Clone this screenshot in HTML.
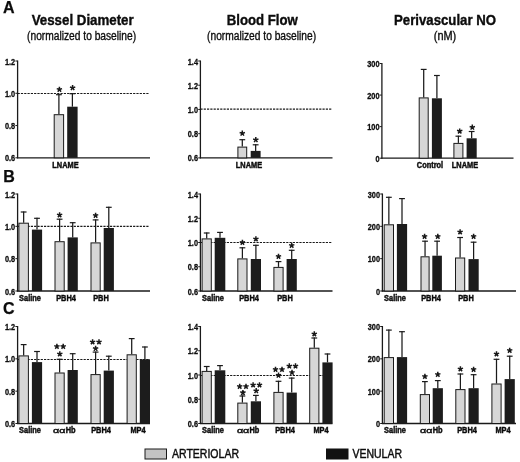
<!DOCTYPE html>
<html><head><meta charset="utf-8"><style>
html,body{margin:0;padding:0;background:#fff;}
svg{display:block;filter:grayscale(1) blur(0.35px);font-family:"Liberation Sans",sans-serif;}
</style></head><body>
<svg width="520" height="462" viewBox="0 0 520 462">
<rect width="520" height="462" fill="#fff"/>
<text x="3" y="13" font-size="16" font-weight="bold" text-anchor="start" fill="#0c0c0c" stroke="#0c0c0c" stroke-width="0.25">A</text>
<text x="3.2" y="181.5" font-size="16" font-weight="bold" text-anchor="start" fill="#0c0c0c" stroke="#0c0c0c" stroke-width="0.25">B</text>
<text x="3" y="314.2" font-size="16" font-weight="bold" text-anchor="start" fill="#0c0c0c" stroke="#0c0c0c" stroke-width="0.25">C</text>
<text x="82.7" y="25.2" font-size="15.4" font-weight="bold" text-anchor="middle" fill="#0c0c0c" stroke="#0c0c0c" stroke-width="0.4" textLength="102" lengthAdjust="spacingAndGlyphs">Vessel Diameter</text>
<text x="81.6" y="40.3" font-size="12" font-weight="normal" text-anchor="middle" fill="#0c0c0c" stroke="#0c0c0c" stroke-width="0.35" textLength="109" lengthAdjust="spacingAndGlyphs">(normalized to baseline)</text>
<text x="262.3" y="25.2" font-size="15.4" font-weight="bold" text-anchor="middle" fill="#0c0c0c" stroke="#0c0c0c" stroke-width="0.4" textLength="71" lengthAdjust="spacingAndGlyphs">Blood Flow</text>
<text x="261.6" y="40.3" font-size="12" font-weight="normal" text-anchor="middle" fill="#0c0c0c" stroke="#0c0c0c" stroke-width="0.35" textLength="109" lengthAdjust="spacingAndGlyphs">(normalized to baseline)</text>
<text x="445" y="25.2" font-size="15.4" font-weight="bold" text-anchor="middle" fill="#0c0c0c" stroke="#0c0c0c" stroke-width="0.4" textLength="102" lengthAdjust="spacingAndGlyphs">Perivascular NO</text>
<text x="445" y="40.3" font-size="12" font-weight="normal" text-anchor="middle" fill="#0c0c0c" stroke="#0c0c0c" stroke-width="0.35" textLength="22.5" lengthAdjust="spacingAndGlyphs">(nM)</text>
<line x1="17.599999999999998" y1="60.5" x2="17.599999999999998" y2="158.3" stroke="#1a1a1a" stroke-width="1.3" />
<line x1="17.099999999999998" y1="157.8" x2="150" y2="157.8" stroke="#1a1a1a" stroke-width="1.3" />
<line x1="15.399999999999999" y1="61.0" x2="17.599999999999998" y2="61.0" stroke="#1a1a1a" stroke-width="1.0" />
<text transform="translate(15.199999999999998 64.5) scale(0.8 1)" font-size="9.2" font-weight="bold" text-anchor="end" fill="#0c0c0c" stroke="#0c0c0c" stroke-width="0.3">1.2</text>
<line x1="15.399999999999999" y1="93.26666666666668" x2="17.599999999999998" y2="93.26666666666668" stroke="#1a1a1a" stroke-width="1.0" />
<text transform="translate(15.199999999999998 96.76666666666668) scale(0.8 1)" font-size="9.2" font-weight="bold" text-anchor="end" fill="#0c0c0c" stroke="#0c0c0c" stroke-width="0.3">1.0</text>
<line x1="15.399999999999999" y1="125.53333333333335" x2="17.599999999999998" y2="125.53333333333335" stroke="#1a1a1a" stroke-width="1.0" />
<text transform="translate(15.199999999999998 129.03333333333336) scale(0.8 1)" font-size="9.2" font-weight="bold" text-anchor="end" fill="#0c0c0c" stroke="#0c0c0c" stroke-width="0.3">0.8</text>
<line x1="15.399999999999999" y1="157.8" x2="17.599999999999998" y2="157.8" stroke="#1a1a1a" stroke-width="1.0" />
<text transform="translate(15.199999999999998 161.3) scale(0.8 1)" font-size="9.2" font-weight="bold" text-anchor="end" fill="#0c0c0c" stroke="#0c0c0c" stroke-width="0.3">0.6</text>
<line x1="17.599999999999998" y1="93.5" x2="149" y2="93.5" stroke="#1a1a1a" stroke-width="1.2" stroke-dasharray="2.2 1.1"/>
<line x1="58.900000000000006" y1="94.2" x2="58.900000000000006" y2="114.2" stroke="#1a1a1a" stroke-width="1.25" />
<line x1="56.00000000000001" y1="94.7" x2="61.800000000000004" y2="94.7" stroke="#1a1a1a" stroke-width="1.2" />
<rect x="54.20" y="114.70" width="9.40" height="43.10" fill="#d6d6d6" stroke="#1a1a1a" stroke-width="1"/>
<line x1="72.4" y1="93.2" x2="72.4" y2="106.7" stroke="#1a1a1a" stroke-width="1.25" />
<line x1="69.5" y1="93.7" x2="75.30000000000001" y2="93.7" stroke="#1a1a1a" stroke-width="1.2" />
<rect x="67.20" y="106.70" width="10.40" height="51.10" fill="#1c1c1c"/>
<text transform="translate(65.5 167.70000000000002) scale(0.86 1)" font-size="8.6" font-weight="bold" text-anchor="middle" fill="#0c0c0c" stroke="#0c0c0c" stroke-width="0.45">LNAME</text>
<path d="M59.40 89.50L59.40 86.70M59.40 89.50L62.06 88.63M59.40 89.50L61.05 91.77M59.40 89.50L57.75 91.77M59.40 89.50L56.74 88.63" stroke="#1a1a1a" stroke-width="1.5" stroke-linecap="butt" fill="none"/>
<circle cx="59.40" cy="89.50" r="1.1" fill="#1a1a1a"/>
<path d="M72.60 87.90L72.60 85.10M72.60 87.90L75.26 87.03M72.60 87.90L74.25 90.17M72.60 87.90L70.95 90.17M72.60 87.90L69.94 87.03" stroke="#1a1a1a" stroke-width="1.5" stroke-linecap="butt" fill="none"/>
<circle cx="72.60" cy="87.90" r="1.1" fill="#1a1a1a"/>
<line x1="200.4" y1="60.5" x2="200.4" y2="158.4" stroke="#1a1a1a" stroke-width="1.3" />
<line x1="199.9" y1="157.9" x2="332.5" y2="157.9" stroke="#1a1a1a" stroke-width="1.3" />
<line x1="198.20000000000002" y1="61.0" x2="200.4" y2="61.0" stroke="#1a1a1a" stroke-width="1.0" />
<text transform="translate(198.0 64.5) scale(0.8 1)" font-size="9.2" font-weight="bold" text-anchor="end" fill="#0c0c0c" stroke="#0c0c0c" stroke-width="0.3">1.4</text>
<line x1="198.20000000000002" y1="85.225" x2="200.4" y2="85.225" stroke="#1a1a1a" stroke-width="1.0" />
<text transform="translate(198.0 88.725) scale(0.8 1)" font-size="9.2" font-weight="bold" text-anchor="end" fill="#0c0c0c" stroke="#0c0c0c" stroke-width="0.3">1.2</text>
<line x1="198.20000000000002" y1="109.45" x2="200.4" y2="109.45" stroke="#1a1a1a" stroke-width="1.0" />
<text transform="translate(198.0 112.95) scale(0.8 1)" font-size="9.2" font-weight="bold" text-anchor="end" fill="#0c0c0c" stroke="#0c0c0c" stroke-width="0.3">1.0</text>
<line x1="198.20000000000002" y1="133.675" x2="200.4" y2="133.675" stroke="#1a1a1a" stroke-width="1.0" />
<text transform="translate(198.0 137.175) scale(0.8 1)" font-size="9.2" font-weight="bold" text-anchor="end" fill="#0c0c0c" stroke="#0c0c0c" stroke-width="0.3">0.8</text>
<line x1="198.20000000000002" y1="157.9" x2="200.4" y2="157.9" stroke="#1a1a1a" stroke-width="1.0" />
<text transform="translate(198.0 161.4) scale(0.8 1)" font-size="9.2" font-weight="bold" text-anchor="end" fill="#0c0c0c" stroke="#0c0c0c" stroke-width="0.3">0.6</text>
<line x1="200.4" y1="109.2" x2="331.5" y2="109.2" stroke="#1a1a1a" stroke-width="1.2" stroke-dasharray="2.2 1.1"/>
<line x1="242.3" y1="139.2" x2="242.3" y2="146.6" stroke="#1a1a1a" stroke-width="1.25" />
<line x1="239.4" y1="139.7" x2="245.20000000000002" y2="139.7" stroke="#1a1a1a" stroke-width="1.2" />
<rect x="237.90" y="147.10" width="8.80" height="10.80" fill="#d6d6d6" stroke="#1a1a1a" stroke-width="1"/>
<line x1="255.64999999999998" y1="144.3" x2="255.64999999999998" y2="150.9" stroke="#1a1a1a" stroke-width="1.25" />
<line x1="252.74999999999997" y1="144.8" x2="258.54999999999995" y2="144.8" stroke="#1a1a1a" stroke-width="1.2" />
<rect x="250.70" y="150.90" width="9.90" height="7.00" fill="#1c1c1c"/>
<text transform="translate(249 167.8) scale(0.86 1)" font-size="8.6" font-weight="bold" text-anchor="middle" fill="#0c0c0c" stroke="#0c0c0c" stroke-width="0.45">LNAME</text>
<path d="M242.30 133.40L242.30 130.60M242.30 133.40L244.96 132.53M242.30 133.40L243.95 135.67M242.30 133.40L240.65 135.67M242.30 133.40L239.64 132.53" stroke="#1a1a1a" stroke-width="1.5" stroke-linecap="butt" fill="none"/>
<circle cx="242.30" cy="133.40" r="1.1" fill="#1a1a1a"/>
<path d="M255.80 139.90L255.80 137.10M255.80 139.90L258.46 139.03M255.80 139.90L257.45 142.17M255.80 139.90L254.15 142.17M255.80 139.90L253.14 139.03" stroke="#1a1a1a" stroke-width="1.5" stroke-linecap="butt" fill="none"/>
<circle cx="255.80" cy="139.90" r="1.1" fill="#1a1a1a"/>
<line x1="381.9" y1="63.0" x2="381.9" y2="158.7" stroke="#1a1a1a" stroke-width="1.3" />
<line x1="381.4" y1="158.2" x2="513.5" y2="158.2" stroke="#1a1a1a" stroke-width="1.3" />
<line x1="379.7" y1="63.5" x2="381.9" y2="63.5" stroke="#1a1a1a" stroke-width="1.0" />
<text transform="translate(379.5 67.0) scale(0.8 1)" font-size="9.2" font-weight="bold" text-anchor="end" fill="#0c0c0c" stroke="#0c0c0c" stroke-width="0.3">300</text>
<line x1="379.7" y1="95.06666666666666" x2="381.9" y2="95.06666666666666" stroke="#1a1a1a" stroke-width="1.0" />
<text transform="translate(379.5 98.56666666666666) scale(0.8 1)" font-size="9.2" font-weight="bold" text-anchor="end" fill="#0c0c0c" stroke="#0c0c0c" stroke-width="0.3">200</text>
<line x1="379.7" y1="126.63333333333333" x2="381.9" y2="126.63333333333333" stroke="#1a1a1a" stroke-width="1.0" />
<text transform="translate(379.5 130.13333333333333) scale(0.8 1)" font-size="9.2" font-weight="bold" text-anchor="end" fill="#0c0c0c" stroke="#0c0c0c" stroke-width="0.3">100</text>
<line x1="379.7" y1="158.2" x2="381.9" y2="158.2" stroke="#1a1a1a" stroke-width="1.0" />
<text transform="translate(379.5 161.7) scale(0.8 1)" font-size="9.2" font-weight="bold" text-anchor="end" fill="#0c0c0c" stroke="#0c0c0c" stroke-width="0.3">0</text>
<line x1="423.70000000000005" y1="68.9" x2="423.70000000000005" y2="97.4" stroke="#1a1a1a" stroke-width="1.25" />
<line x1="420.80000000000007" y1="69.4" x2="426.6" y2="69.4" stroke="#1a1a1a" stroke-width="1.2" />
<rect x="419.20" y="97.90" width="9.00" height="60.30" fill="#d6d6d6" stroke="#1a1a1a" stroke-width="1"/>
<line x1="436.9" y1="75.0" x2="436.9" y2="98.3" stroke="#1a1a1a" stroke-width="1.25" />
<line x1="434.0" y1="75.5" x2="439.79999999999995" y2="75.5" stroke="#1a1a1a" stroke-width="1.2" />
<rect x="431.90" y="98.30" width="10.00" height="59.90" fill="#1c1c1c"/>
<line x1="458.4" y1="135.7" x2="458.4" y2="142.9" stroke="#1a1a1a" stroke-width="1.25" />
<line x1="455.5" y1="136.2" x2="461.29999999999995" y2="136.2" stroke="#1a1a1a" stroke-width="1.2" />
<rect x="453.90" y="143.40" width="9.00" height="14.80" fill="#d6d6d6" stroke="#1a1a1a" stroke-width="1"/>
<line x1="471.65" y1="131.0" x2="471.65" y2="138.3" stroke="#1a1a1a" stroke-width="1.25" />
<line x1="468.75" y1="131.5" x2="474.54999999999995" y2="131.5" stroke="#1a1a1a" stroke-width="1.2" />
<rect x="466.60" y="138.30" width="10.10" height="19.90" fill="#1c1c1c"/>
<text transform="translate(430 168.1) scale(0.86 1)" font-size="8.6" font-weight="bold" text-anchor="middle" fill="#0c0c0c" stroke="#0c0c0c" stroke-width="0.45">Control</text>
<text transform="translate(465 168.1) scale(0.86 1)" font-size="8.6" font-weight="bold" text-anchor="middle" fill="#0c0c0c" stroke="#0c0c0c" stroke-width="0.45">LNAME</text>
<path d="M459.70 131.20L459.70 128.40M459.70 131.20L462.36 130.33M459.70 131.20L461.35 133.47M459.70 131.20L458.05 133.47M459.70 131.20L457.04 130.33" stroke="#1a1a1a" stroke-width="1.5" stroke-linecap="butt" fill="none"/>
<circle cx="459.70" cy="131.20" r="1.1" fill="#1a1a1a"/>
<path d="M472.30 127.40L472.30 124.60M472.30 127.40L474.96 126.53M472.30 127.40L473.95 129.67M472.30 127.40L470.65 129.67M472.30 127.40L469.64 126.53" stroke="#1a1a1a" stroke-width="1.5" stroke-linecap="butt" fill="none"/>
<circle cx="472.30" cy="127.40" r="1.1" fill="#1a1a1a"/>
<line x1="17.599999999999998" y1="193.5" x2="17.599999999999998" y2="291.5" stroke="#1a1a1a" stroke-width="1.3" />
<line x1="17.099999999999998" y1="291" x2="150" y2="291" stroke="#1a1a1a" stroke-width="1.3" />
<line x1="15.399999999999999" y1="194.0" x2="17.599999999999998" y2="194.0" stroke="#1a1a1a" stroke-width="1.0" />
<text transform="translate(15.199999999999998 197.5) scale(0.8 1)" font-size="9.2" font-weight="bold" text-anchor="end" fill="#0c0c0c" stroke="#0c0c0c" stroke-width="0.3">1.2</text>
<line x1="15.399999999999999" y1="226.33333333333334" x2="17.599999999999998" y2="226.33333333333334" stroke="#1a1a1a" stroke-width="1.0" />
<text transform="translate(15.199999999999998 229.83333333333334) scale(0.8 1)" font-size="9.2" font-weight="bold" text-anchor="end" fill="#0c0c0c" stroke="#0c0c0c" stroke-width="0.3">1.0</text>
<line x1="15.399999999999999" y1="258.6666666666667" x2="17.599999999999998" y2="258.6666666666667" stroke="#1a1a1a" stroke-width="1.0" />
<text transform="translate(15.199999999999998 262.1666666666667) scale(0.8 1)" font-size="9.2" font-weight="bold" text-anchor="end" fill="#0c0c0c" stroke="#0c0c0c" stroke-width="0.3">0.8</text>
<line x1="15.399999999999999" y1="291.0" x2="17.599999999999998" y2="291.0" stroke="#1a1a1a" stroke-width="1.0" />
<text transform="translate(15.199999999999998 294.5) scale(0.8 1)" font-size="9.2" font-weight="bold" text-anchor="end" fill="#0c0c0c" stroke="#0c0c0c" stroke-width="0.3">0.6</text>
<line x1="17.599999999999998" y1="226.3" x2="149" y2="226.3" stroke="#1a1a1a" stroke-width="1.2" stroke-dasharray="2.2 1.1"/>
<line x1="23.65" y1="211.5" x2="23.65" y2="222.7" stroke="#1a1a1a" stroke-width="1.25" />
<line x1="20.75" y1="212" x2="26.549999999999997" y2="212" stroke="#1a1a1a" stroke-width="1.2" />
<rect x="18.90" y="223.20" width="9.50" height="67.80" fill="#d6d6d6" stroke="#1a1a1a" stroke-width="1"/>
<line x1="37.0" y1="217.8" x2="37.0" y2="229.6" stroke="#1a1a1a" stroke-width="1.25" />
<line x1="34.1" y1="218.3" x2="39.9" y2="218.3" stroke="#1a1a1a" stroke-width="1.2" />
<rect x="31.90" y="229.60" width="10.20" height="61.40" fill="#1c1c1c"/>
<line x1="59.6" y1="218.7" x2="59.6" y2="241.2" stroke="#1a1a1a" stroke-width="1.25" />
<line x1="56.7" y1="219.2" x2="62.5" y2="219.2" stroke="#1a1a1a" stroke-width="1.2" />
<rect x="55.00" y="241.70" width="9.20" height="49.30" fill="#d6d6d6" stroke="#1a1a1a" stroke-width="1"/>
<line x1="72.7" y1="222.2" x2="72.7" y2="237.4" stroke="#1a1a1a" stroke-width="1.25" />
<line x1="69.8" y1="222.7" x2="75.60000000000001" y2="222.7" stroke="#1a1a1a" stroke-width="1.2" />
<rect x="67.60" y="237.40" width="10.20" height="53.60" fill="#1c1c1c"/>
<line x1="95.6" y1="219.4" x2="95.6" y2="242.4" stroke="#1a1a1a" stroke-width="1.25" />
<line x1="92.69999999999999" y1="219.9" x2="98.5" y2="219.9" stroke="#1a1a1a" stroke-width="1.2" />
<rect x="91.00" y="242.90" width="9.20" height="48.10" fill="#d6d6d6" stroke="#1a1a1a" stroke-width="1"/>
<line x1="108.8" y1="206.8" x2="108.8" y2="228" stroke="#1a1a1a" stroke-width="1.25" />
<line x1="105.89999999999999" y1="207.3" x2="111.7" y2="207.3" stroke="#1a1a1a" stroke-width="1.2" />
<rect x="103.70" y="228.00" width="10.20" height="63.00" fill="#1c1c1c"/>
<text transform="translate(30 300.9) scale(0.86 1)" font-size="8.6" font-weight="bold" text-anchor="middle" fill="#0c0c0c" stroke="#0c0c0c" stroke-width="0.45">Saline</text>
<text transform="translate(66 300.9) scale(0.86 1)" font-size="8.6" font-weight="bold" text-anchor="middle" fill="#0c0c0c" stroke="#0c0c0c" stroke-width="0.45">PBH4</text>
<text transform="translate(101 300.9) scale(0.86 1)" font-size="8.6" font-weight="bold" text-anchor="middle" fill="#0c0c0c" stroke="#0c0c0c" stroke-width="0.45">PBH</text>
<path d="M59.60 215.00L59.60 212.20M59.60 215.00L62.26 214.13M59.60 215.00L61.25 217.27M59.60 215.00L57.95 217.27M59.60 215.00L56.94 214.13" stroke="#1a1a1a" stroke-width="1.5" stroke-linecap="butt" fill="none"/>
<circle cx="59.60" cy="215.00" r="1.1" fill="#1a1a1a"/>
<path d="M95.60 215.50L95.60 212.70M95.60 215.50L98.26 214.63M95.60 215.50L97.25 217.77M95.60 215.50L93.95 217.77M95.60 215.50L92.94 214.63" stroke="#1a1a1a" stroke-width="1.5" stroke-linecap="butt" fill="none"/>
<circle cx="95.60" cy="215.50" r="1.1" fill="#1a1a1a"/>
<line x1="200.4" y1="193.5" x2="200.4" y2="291.5" stroke="#1a1a1a" stroke-width="1.3" />
<line x1="199.9" y1="291" x2="332.5" y2="291" stroke="#1a1a1a" stroke-width="1.3" />
<line x1="198.20000000000002" y1="194.0" x2="200.4" y2="194.0" stroke="#1a1a1a" stroke-width="1.0" />
<text transform="translate(198.0 197.5) scale(0.8 1)" font-size="9.2" font-weight="bold" text-anchor="end" fill="#0c0c0c" stroke="#0c0c0c" stroke-width="0.3">1.4</text>
<line x1="198.20000000000002" y1="218.25" x2="200.4" y2="218.25" stroke="#1a1a1a" stroke-width="1.0" />
<text transform="translate(198.0 221.75) scale(0.8 1)" font-size="9.2" font-weight="bold" text-anchor="end" fill="#0c0c0c" stroke="#0c0c0c" stroke-width="0.3">1.2</text>
<line x1="198.20000000000002" y1="242.5" x2="200.4" y2="242.5" stroke="#1a1a1a" stroke-width="1.0" />
<text transform="translate(198.0 246.0) scale(0.8 1)" font-size="9.2" font-weight="bold" text-anchor="end" fill="#0c0c0c" stroke="#0c0c0c" stroke-width="0.3">1.0</text>
<line x1="198.20000000000002" y1="266.75" x2="200.4" y2="266.75" stroke="#1a1a1a" stroke-width="1.0" />
<text transform="translate(198.0 270.25) scale(0.8 1)" font-size="9.2" font-weight="bold" text-anchor="end" fill="#0c0c0c" stroke="#0c0c0c" stroke-width="0.3">0.8</text>
<line x1="198.20000000000002" y1="291.0" x2="200.4" y2="291.0" stroke="#1a1a1a" stroke-width="1.0" />
<text transform="translate(198.0 294.5) scale(0.8 1)" font-size="9.2" font-weight="bold" text-anchor="end" fill="#0c0c0c" stroke="#0c0c0c" stroke-width="0.3">0.6</text>
<line x1="200.4" y1="242.5" x2="331.5" y2="242.5" stroke="#1a1a1a" stroke-width="1.2" stroke-dasharray="2.2 1.1"/>
<line x1="206.7" y1="232.5" x2="206.7" y2="238.4" stroke="#1a1a1a" stroke-width="1.25" />
<line x1="203.79999999999998" y1="233" x2="209.6" y2="233" stroke="#1a1a1a" stroke-width="1.2" />
<rect x="202.10" y="238.90" width="9.20" height="52.10" fill="#d6d6d6" stroke="#1a1a1a" stroke-width="1"/>
<line x1="220.0" y1="231.9" x2="220.0" y2="237.8" stroke="#1a1a1a" stroke-width="1.25" />
<line x1="217.1" y1="232.4" x2="222.9" y2="232.4" stroke="#1a1a1a" stroke-width="1.2" />
<rect x="214.70" y="237.80" width="10.60" height="53.20" fill="#1c1c1c"/>
<line x1="242.39999999999998" y1="247.3" x2="242.39999999999998" y2="258.4" stroke="#1a1a1a" stroke-width="1.25" />
<line x1="239.49999999999997" y1="247.8" x2="245.29999999999998" y2="247.8" stroke="#1a1a1a" stroke-width="1.2" />
<rect x="237.80" y="258.90" width="9.20" height="32.10" fill="#d6d6d6" stroke="#1a1a1a" stroke-width="1"/>
<line x1="255.89999999999998" y1="244.8" x2="255.89999999999998" y2="259" stroke="#1a1a1a" stroke-width="1.25" />
<line x1="252.99999999999997" y1="245.3" x2="258.79999999999995" y2="245.3" stroke="#1a1a1a" stroke-width="1.2" />
<rect x="250.80" y="259.00" width="10.20" height="32.00" fill="#1c1c1c"/>
<line x1="278.5" y1="261.1" x2="278.5" y2="266.9" stroke="#1a1a1a" stroke-width="1.25" />
<line x1="275.6" y1="261.6" x2="281.4" y2="261.6" stroke="#1a1a1a" stroke-width="1.2" />
<rect x="273.90" y="267.40" width="9.20" height="23.60" fill="#d6d6d6" stroke="#1a1a1a" stroke-width="1"/>
<line x1="291.7" y1="249.8" x2="291.7" y2="259" stroke="#1a1a1a" stroke-width="1.25" />
<line x1="288.8" y1="250.3" x2="294.59999999999997" y2="250.3" stroke="#1a1a1a" stroke-width="1.2" />
<rect x="286.60" y="259.00" width="10.20" height="32.00" fill="#1c1c1c"/>
<text transform="translate(213 300.9) scale(0.86 1)" font-size="8.6" font-weight="bold" text-anchor="middle" fill="#0c0c0c" stroke="#0c0c0c" stroke-width="0.45">Saline</text>
<text transform="translate(249 300.9) scale(0.86 1)" font-size="8.6" font-weight="bold" text-anchor="middle" fill="#0c0c0c" stroke="#0c0c0c" stroke-width="0.45">PBH4</text>
<text transform="translate(285 300.9) scale(0.86 1)" font-size="8.6" font-weight="bold" text-anchor="middle" fill="#0c0c0c" stroke="#0c0c0c" stroke-width="0.45">PBH</text>
<path d="M242.40 242.50L242.40 239.70M242.40 242.50L245.06 241.63M242.40 242.50L244.05 244.77M242.40 242.50L240.75 244.77M242.40 242.50L239.74 241.63" stroke="#1a1a1a" stroke-width="1.5" stroke-linecap="butt" fill="none"/>
<circle cx="242.40" cy="242.50" r="1.1" fill="#1a1a1a"/>
<path d="M255.90 239.00L255.90 236.20M255.90 239.00L258.56 238.13M255.90 239.00L257.55 241.27M255.90 239.00L254.25 241.27M255.90 239.00L253.24 238.13" stroke="#1a1a1a" stroke-width="1.5" stroke-linecap="butt" fill="none"/>
<circle cx="255.90" cy="239.00" r="1.1" fill="#1a1a1a"/>
<path d="M278.50 256.50L278.50 253.70M278.50 256.50L281.16 255.63M278.50 256.50L280.15 258.77M278.50 256.50L276.85 258.77M278.50 256.50L275.84 255.63" stroke="#1a1a1a" stroke-width="1.5" stroke-linecap="butt" fill="none"/>
<circle cx="278.50" cy="256.50" r="1.1" fill="#1a1a1a"/>
<path d="M291.70 245.50L291.70 242.70M291.70 245.50L294.36 244.63M291.70 245.50L293.35 247.77M291.70 245.50L290.05 247.77M291.70 245.50L289.04 244.63" stroke="#1a1a1a" stroke-width="1.5" stroke-linecap="butt" fill="none"/>
<circle cx="291.70" cy="245.50" r="1.1" fill="#1a1a1a"/>
<line x1="382.4" y1="193.5" x2="382.4" y2="291.5" stroke="#1a1a1a" stroke-width="1.3" />
<line x1="381.9" y1="291" x2="516" y2="291" stroke="#1a1a1a" stroke-width="1.3" />
<line x1="380.2" y1="194.0" x2="382.4" y2="194.0" stroke="#1a1a1a" stroke-width="1.0" />
<text transform="translate(380.0 197.5) scale(0.8 1)" font-size="9.2" font-weight="bold" text-anchor="end" fill="#0c0c0c" stroke="#0c0c0c" stroke-width="0.3">300</text>
<line x1="380.2" y1="226.33333333333334" x2="382.4" y2="226.33333333333334" stroke="#1a1a1a" stroke-width="1.0" />
<text transform="translate(380.0 229.83333333333334) scale(0.8 1)" font-size="9.2" font-weight="bold" text-anchor="end" fill="#0c0c0c" stroke="#0c0c0c" stroke-width="0.3">200</text>
<line x1="380.2" y1="258.6666666666667" x2="382.4" y2="258.6666666666667" stroke="#1a1a1a" stroke-width="1.0" />
<text transform="translate(380.0 262.1666666666667) scale(0.8 1)" font-size="9.2" font-weight="bold" text-anchor="end" fill="#0c0c0c" stroke="#0c0c0c" stroke-width="0.3">100</text>
<line x1="380.2" y1="291.0" x2="382.4" y2="291.0" stroke="#1a1a1a" stroke-width="1.0" />
<text transform="translate(380.0 294.5) scale(0.8 1)" font-size="9.2" font-weight="bold" text-anchor="end" fill="#0c0c0c" stroke="#0c0c0c" stroke-width="0.3">0</text>
<line x1="388.85" y1="196.8" x2="388.85" y2="224.3" stroke="#1a1a1a" stroke-width="1.25" />
<line x1="385.95000000000005" y1="197.3" x2="391.75" y2="197.3" stroke="#1a1a1a" stroke-width="1.2" />
<rect x="384.20" y="224.80" width="9.30" height="66.20" fill="#d6d6d6" stroke="#1a1a1a" stroke-width="1"/>
<line x1="402.0" y1="198.1" x2="402.0" y2="224" stroke="#1a1a1a" stroke-width="1.25" />
<line x1="399.1" y1="198.6" x2="404.9" y2="198.6" stroke="#1a1a1a" stroke-width="1.2" />
<rect x="396.90" y="224.00" width="10.20" height="67.00" fill="#1c1c1c"/>
<line x1="425.04999999999995" y1="240.7" x2="425.04999999999995" y2="256.3" stroke="#1a1a1a" stroke-width="1.25" />
<line x1="422.15" y1="241.2" x2="427.94999999999993" y2="241.2" stroke="#1a1a1a" stroke-width="1.2" />
<rect x="421.00" y="256.80" width="8.10" height="34.20" fill="#d6d6d6" stroke="#1a1a1a" stroke-width="1"/>
<line x1="437.1" y1="240.7" x2="437.1" y2="255.7" stroke="#1a1a1a" stroke-width="1.25" />
<line x1="434.20000000000005" y1="241.2" x2="440.0" y2="241.2" stroke="#1a1a1a" stroke-width="1.2" />
<rect x="432.30" y="255.70" width="9.60" height="35.30" fill="#1c1c1c"/>
<line x1="460.1" y1="237.0" x2="460.1" y2="257.5" stroke="#1a1a1a" stroke-width="1.25" />
<line x1="457.20000000000005" y1="237.5" x2="463.0" y2="237.5" stroke="#1a1a1a" stroke-width="1.2" />
<rect x="455.50" y="258.00" width="9.20" height="33.00" fill="#d6d6d6" stroke="#1a1a1a" stroke-width="1"/>
<line x1="473.6" y1="241.7" x2="473.6" y2="259.1" stroke="#1a1a1a" stroke-width="1.25" />
<line x1="470.70000000000005" y1="242.2" x2="476.5" y2="242.2" stroke="#1a1a1a" stroke-width="1.2" />
<rect x="468.50" y="259.10" width="10.20" height="31.90" fill="#1c1c1c"/>
<text transform="translate(395 300.9) scale(0.86 1)" font-size="8.6" font-weight="bold" text-anchor="middle" fill="#0c0c0c" stroke="#0c0c0c" stroke-width="0.45">Saline</text>
<text transform="translate(431 300.9) scale(0.86 1)" font-size="8.6" font-weight="bold" text-anchor="middle" fill="#0c0c0c" stroke="#0c0c0c" stroke-width="0.45">PBH4</text>
<text transform="translate(466 300.9) scale(0.86 1)" font-size="8.6" font-weight="bold" text-anchor="middle" fill="#0c0c0c" stroke="#0c0c0c" stroke-width="0.45">PBH</text>
<path d="M424.60 236.50L424.60 233.70M424.60 236.50L427.26 235.63M424.60 236.50L426.25 238.77M424.60 236.50L422.95 238.77M424.60 236.50L421.94 235.63" stroke="#1a1a1a" stroke-width="1.5" stroke-linecap="butt" fill="none"/>
<circle cx="424.60" cy="236.50" r="1.1" fill="#1a1a1a"/>
<path d="M437.80 236.50L437.80 233.70M437.80 236.50L440.46 235.63M437.80 236.50L439.45 238.77M437.80 236.50L436.15 238.77M437.80 236.50L435.14 235.63" stroke="#1a1a1a" stroke-width="1.5" stroke-linecap="butt" fill="none"/>
<circle cx="437.80" cy="236.50" r="1.1" fill="#1a1a1a"/>
<path d="M460.10 232.00L460.10 229.20M460.10 232.00L462.76 231.13M460.10 232.00L461.75 234.27M460.10 232.00L458.45 234.27M460.10 232.00L457.44 231.13" stroke="#1a1a1a" stroke-width="1.5" stroke-linecap="butt" fill="none"/>
<circle cx="460.10" cy="232.00" r="1.1" fill="#1a1a1a"/>
<path d="M473.60 236.50L473.60 233.70M473.60 236.50L476.26 235.63M473.60 236.50L475.25 238.77M473.60 236.50L471.95 238.77M473.60 236.50L470.94 235.63" stroke="#1a1a1a" stroke-width="1.5" stroke-linecap="butt" fill="none"/>
<circle cx="473.60" cy="236.50" r="1.1" fill="#1a1a1a"/>
<line x1="17.599999999999998" y1="326.0" x2="17.599999999999998" y2="424.0" stroke="#1a1a1a" stroke-width="1.3" />
<line x1="17.099999999999998" y1="423.5" x2="150" y2="423.5" stroke="#1a1a1a" stroke-width="1.3" />
<line x1="15.399999999999999" y1="326.5" x2="17.599999999999998" y2="326.5" stroke="#1a1a1a" stroke-width="1.0" />
<text transform="translate(15.199999999999998 330.0) scale(0.8 1)" font-size="9.2" font-weight="bold" text-anchor="end" fill="#0c0c0c" stroke="#0c0c0c" stroke-width="0.3">1.2</text>
<line x1="15.399999999999999" y1="358.8333333333333" x2="17.599999999999998" y2="358.8333333333333" stroke="#1a1a1a" stroke-width="1.0" />
<text transform="translate(15.199999999999998 362.3333333333333) scale(0.8 1)" font-size="9.2" font-weight="bold" text-anchor="end" fill="#0c0c0c" stroke="#0c0c0c" stroke-width="0.3">1.0</text>
<line x1="15.399999999999999" y1="391.1666666666667" x2="17.599999999999998" y2="391.1666666666667" stroke="#1a1a1a" stroke-width="1.0" />
<text transform="translate(15.199999999999998 394.6666666666667) scale(0.8 1)" font-size="9.2" font-weight="bold" text-anchor="end" fill="#0c0c0c" stroke="#0c0c0c" stroke-width="0.3">0.8</text>
<line x1="15.399999999999999" y1="423.5" x2="17.599999999999998" y2="423.5" stroke="#1a1a1a" stroke-width="1.0" />
<text transform="translate(15.199999999999998 427.0) scale(0.8 1)" font-size="9.2" font-weight="bold" text-anchor="end" fill="#0c0c0c" stroke="#0c0c0c" stroke-width="0.3">0.6</text>
<line x1="17.599999999999998" y1="359.5" x2="149" y2="359.5" stroke="#1a1a1a" stroke-width="1.2" stroke-dasharray="2.2 1.1"/>
<line x1="23.65" y1="344.1" x2="23.65" y2="355.4" stroke="#1a1a1a" stroke-width="1.25" />
<line x1="20.75" y1="344.6" x2="26.549999999999997" y2="344.6" stroke="#1a1a1a" stroke-width="1.2" />
<rect x="18.90" y="355.90" width="9.50" height="67.60" fill="#d6d6d6" stroke="#1a1a1a" stroke-width="1"/>
<line x1="37.0" y1="351.0" x2="37.0" y2="362.1" stroke="#1a1a1a" stroke-width="1.25" />
<line x1="34.1" y1="351.5" x2="39.9" y2="351.5" stroke="#1a1a1a" stroke-width="1.2" />
<rect x="31.90" y="362.10" width="10.20" height="61.40" fill="#1c1c1c"/>
<line x1="59.6" y1="358.8" x2="59.6" y2="372.5" stroke="#1a1a1a" stroke-width="1.25" />
<line x1="56.7" y1="359.3" x2="62.5" y2="359.3" stroke="#1a1a1a" stroke-width="1.2" />
<rect x="55.00" y="373.00" width="9.20" height="50.50" fill="#d6d6d6" stroke="#1a1a1a" stroke-width="1"/>
<line x1="72.7" y1="353.2" x2="72.7" y2="370" stroke="#1a1a1a" stroke-width="1.25" />
<line x1="69.8" y1="353.7" x2="75.60000000000001" y2="353.7" stroke="#1a1a1a" stroke-width="1.2" />
<rect x="67.60" y="370.00" width="10.20" height="53.50" fill="#1c1c1c"/>
<line x1="95.6" y1="351.6" x2="95.6" y2="374.1" stroke="#1a1a1a" stroke-width="1.25" />
<line x1="92.69999999999999" y1="352.1" x2="98.5" y2="352.1" stroke="#1a1a1a" stroke-width="1.2" />
<rect x="91.00" y="374.60" width="9.20" height="48.90" fill="#d6d6d6" stroke="#1a1a1a" stroke-width="1"/>
<line x1="108.8" y1="355.7" x2="108.8" y2="370.6" stroke="#1a1a1a" stroke-width="1.25" />
<line x1="105.89999999999999" y1="356.2" x2="111.7" y2="356.2" stroke="#1a1a1a" stroke-width="1.2" />
<rect x="103.70" y="370.60" width="10.20" height="52.90" fill="#1c1c1c"/>
<line x1="131.7" y1="338.1" x2="131.7" y2="354.3" stroke="#1a1a1a" stroke-width="1.25" />
<line x1="128.79999999999998" y1="338.6" x2="134.6" y2="338.6" stroke="#1a1a1a" stroke-width="1.2" />
<rect x="127.10" y="354.80" width="9.20" height="68.70" fill="#d6d6d6" stroke="#1a1a1a" stroke-width="1"/>
<line x1="144.89999999999998" y1="346.5" x2="144.89999999999998" y2="359.3" stroke="#1a1a1a" stroke-width="1.25" />
<line x1="141.99999999999997" y1="347" x2="147.79999999999998" y2="347" stroke="#1a1a1a" stroke-width="1.2" />
<rect x="139.80" y="359.30" width="10.20" height="64.20" fill="#1c1c1c"/>
<text transform="translate(30 433.4) scale(0.86 1)" font-size="8.6" font-weight="bold" text-anchor="middle" fill="#0c0c0c" stroke="#0c0c0c" stroke-width="0.45">Saline</text>
<text transform="translate(65.5 433.4) scale(1.38 1)" font-size="7.8" font-weight="normal" text-anchor="end" fill="#0c0c0c" stroke="#0c0c0c" stroke-width="0.4">αα</text>
<text transform="translate(65.7 433.4) scale(0.86 1)" font-size="8.6" font-weight="bold" text-anchor="start" fill="#0c0c0c" stroke="#0c0c0c" stroke-width="0.45">Hb</text>
<text transform="translate(101 433.4) scale(0.86 1)" font-size="8.6" font-weight="bold" text-anchor="middle" fill="#0c0c0c" stroke="#0c0c0c" stroke-width="0.45">PBH4</text>
<text transform="translate(138 433.4) scale(0.86 1)" font-size="8.6" font-weight="bold" text-anchor="middle" fill="#0c0c0c" stroke="#0c0c0c" stroke-width="0.45">MP4</text>
<path d="M56.90 346.50L56.90 343.70M56.90 346.50L59.56 345.63M56.90 346.50L58.55 348.77M56.90 346.50L55.25 348.77M56.90 346.50L54.24 345.63" stroke="#1a1a1a" stroke-width="1.5" stroke-linecap="butt" fill="none"/>
<circle cx="56.90" cy="346.50" r="1.1" fill="#1a1a1a"/>
<path d="M63.20 346.50L63.20 343.70M63.20 346.50L65.86 345.63M63.20 346.50L64.85 348.77M63.20 346.50L61.55 348.77M63.20 346.50L60.54 345.63" stroke="#1a1a1a" stroke-width="1.5" stroke-linecap="butt" fill="none"/>
<circle cx="63.20" cy="346.50" r="1.1" fill="#1a1a1a"/>
<path d="M59.80 354.00L59.80 351.20M59.80 354.00L62.46 353.13M59.80 354.00L61.45 356.27M59.80 354.00L58.15 356.27M59.80 354.00L57.14 353.13" stroke="#1a1a1a" stroke-width="1.5" stroke-linecap="butt" fill="none"/>
<circle cx="59.80" cy="354.00" r="1.1" fill="#1a1a1a"/>
<path d="M92.60 342.00L92.60 339.20M92.60 342.00L95.26 341.13M92.60 342.00L94.25 344.27M92.60 342.00L90.95 344.27M92.60 342.00L89.94 341.13" stroke="#1a1a1a" stroke-width="1.5" stroke-linecap="butt" fill="none"/>
<circle cx="92.60" cy="342.00" r="1.1" fill="#1a1a1a"/>
<path d="M99.00 342.00L99.00 339.20M99.00 342.00L101.66 341.13M99.00 342.00L100.65 344.27M99.00 342.00L97.35 344.27M99.00 342.00L96.34 341.13" stroke="#1a1a1a" stroke-width="1.5" stroke-linecap="butt" fill="none"/>
<circle cx="99.00" cy="342.00" r="1.1" fill="#1a1a1a"/>
<path d="M95.60 348.60L95.60 345.80M95.60 348.60L98.26 347.73M95.60 348.60L97.25 350.87M95.60 348.60L93.95 350.87M95.60 348.60L92.94 347.73" stroke="#1a1a1a" stroke-width="1.5" stroke-linecap="butt" fill="none"/>
<circle cx="95.60" cy="348.60" r="1.1" fill="#1a1a1a"/>
<line x1="200.4" y1="326.0" x2="200.4" y2="424.0" stroke="#1a1a1a" stroke-width="1.3" />
<line x1="199.9" y1="423.5" x2="332.5" y2="423.5" stroke="#1a1a1a" stroke-width="1.3" />
<line x1="198.20000000000002" y1="326.5" x2="200.4" y2="326.5" stroke="#1a1a1a" stroke-width="1.0" />
<text transform="translate(198.0 330.0) scale(0.8 1)" font-size="9.2" font-weight="bold" text-anchor="end" fill="#0c0c0c" stroke="#0c0c0c" stroke-width="0.3">1.4</text>
<line x1="198.20000000000002" y1="350.75" x2="200.4" y2="350.75" stroke="#1a1a1a" stroke-width="1.0" />
<text transform="translate(198.0 354.25) scale(0.8 1)" font-size="9.2" font-weight="bold" text-anchor="end" fill="#0c0c0c" stroke="#0c0c0c" stroke-width="0.3">1.2</text>
<line x1="198.20000000000002" y1="375.0" x2="200.4" y2="375.0" stroke="#1a1a1a" stroke-width="1.0" />
<text transform="translate(198.0 378.5) scale(0.8 1)" font-size="9.2" font-weight="bold" text-anchor="end" fill="#0c0c0c" stroke="#0c0c0c" stroke-width="0.3">1.0</text>
<line x1="198.20000000000002" y1="399.25" x2="200.4" y2="399.25" stroke="#1a1a1a" stroke-width="1.0" />
<text transform="translate(198.0 402.75) scale(0.8 1)" font-size="9.2" font-weight="bold" text-anchor="end" fill="#0c0c0c" stroke="#0c0c0c" stroke-width="0.3">0.8</text>
<line x1="198.20000000000002" y1="423.5" x2="200.4" y2="423.5" stroke="#1a1a1a" stroke-width="1.0" />
<text transform="translate(198.0 427.0) scale(0.8 1)" font-size="9.2" font-weight="bold" text-anchor="end" fill="#0c0c0c" stroke="#0c0c0c" stroke-width="0.3">0.6</text>
<line x1="200.4" y1="375.5" x2="331.5" y2="375.5" stroke="#1a1a1a" stroke-width="1.2" stroke-dasharray="2.2 1.1"/>
<line x1="206.7" y1="366.0" x2="206.7" y2="370.9" stroke="#1a1a1a" stroke-width="1.25" />
<line x1="203.79999999999998" y1="366.5" x2="209.6" y2="366.5" stroke="#1a1a1a" stroke-width="1.2" />
<rect x="202.10" y="371.40" width="9.20" height="52.10" fill="#d6d6d6" stroke="#1a1a1a" stroke-width="1"/>
<line x1="220.0" y1="365.1" x2="220.0" y2="370.3" stroke="#1a1a1a" stroke-width="1.25" />
<line x1="217.1" y1="365.6" x2="222.9" y2="365.6" stroke="#1a1a1a" stroke-width="1.2" />
<rect x="214.70" y="370.30" width="10.60" height="53.20" fill="#1c1c1c"/>
<line x1="242.39999999999998" y1="395.5" x2="242.39999999999998" y2="402.6" stroke="#1a1a1a" stroke-width="1.25" />
<line x1="239.49999999999997" y1="396" x2="245.29999999999998" y2="396" stroke="#1a1a1a" stroke-width="1.2" />
<rect x="237.80" y="403.10" width="9.20" height="20.40" fill="#d6d6d6" stroke="#1a1a1a" stroke-width="1"/>
<line x1="255.89999999999998" y1="394.9" x2="255.89999999999998" y2="401.3" stroke="#1a1a1a" stroke-width="1.25" />
<line x1="252.99999999999997" y1="395.4" x2="258.79999999999995" y2="395.4" stroke="#1a1a1a" stroke-width="1.2" />
<rect x="250.80" y="401.30" width="10.20" height="22.20" fill="#1c1c1c"/>
<line x1="278.5" y1="380.8" x2="278.5" y2="391.9" stroke="#1a1a1a" stroke-width="1.25" />
<line x1="275.6" y1="381.3" x2="281.4" y2="381.3" stroke="#1a1a1a" stroke-width="1.2" />
<rect x="273.90" y="392.40" width="9.20" height="31.10" fill="#d6d6d6" stroke="#1a1a1a" stroke-width="1"/>
<line x1="291.7" y1="377.6" x2="291.7" y2="392.6" stroke="#1a1a1a" stroke-width="1.25" />
<line x1="288.8" y1="378.1" x2="294.59999999999997" y2="378.1" stroke="#1a1a1a" stroke-width="1.2" />
<rect x="286.60" y="392.60" width="10.20" height="30.90" fill="#1c1c1c"/>
<line x1="314.3" y1="337.5" x2="314.3" y2="347.7" stroke="#1a1a1a" stroke-width="1.25" />
<line x1="311.40000000000003" y1="338" x2="317.2" y2="338" stroke="#1a1a1a" stroke-width="1.2" />
<rect x="309.70" y="348.20" width="9.20" height="75.30" fill="#d6d6d6" stroke="#1a1a1a" stroke-width="1"/>
<line x1="327.5" y1="353.5" x2="327.5" y2="362.4" stroke="#1a1a1a" stroke-width="1.25" />
<line x1="324.6" y1="354" x2="330.4" y2="354" stroke="#1a1a1a" stroke-width="1.2" />
<rect x="322.40" y="362.40" width="10.20" height="61.10" fill="#1c1c1c"/>
<text transform="translate(213 433.4) scale(0.86 1)" font-size="8.6" font-weight="bold" text-anchor="middle" fill="#0c0c0c" stroke="#0c0c0c" stroke-width="0.45">Saline</text>
<text transform="translate(249.3 433.4) scale(1.38 1)" font-size="7.8" font-weight="normal" text-anchor="end" fill="#0c0c0c" stroke="#0c0c0c" stroke-width="0.4">αα</text>
<text transform="translate(249.5 433.4) scale(0.86 1)" font-size="8.6" font-weight="bold" text-anchor="start" fill="#0c0c0c" stroke="#0c0c0c" stroke-width="0.45">Hb</text>
<text transform="translate(285 433.4) scale(0.86 1)" font-size="8.6" font-weight="bold" text-anchor="middle" fill="#0c0c0c" stroke="#0c0c0c" stroke-width="0.45">PBH4</text>
<text transform="translate(321 433.4) scale(0.86 1)" font-size="8.6" font-weight="bold" text-anchor="middle" fill="#0c0c0c" stroke="#0c0c0c" stroke-width="0.45">MP4</text>
<path d="M239.70 386.50L239.70 383.70M239.70 386.50L242.36 385.63M239.70 386.50L241.35 388.77M239.70 386.50L238.05 388.77M239.70 386.50L237.04 385.63" stroke="#1a1a1a" stroke-width="1.5" stroke-linecap="butt" fill="none"/>
<circle cx="239.70" cy="386.50" r="1.1" fill="#1a1a1a"/>
<path d="M246.00 386.50L246.00 383.70M246.00 386.50L248.66 385.63M246.00 386.50L247.65 388.77M246.00 386.50L244.35 388.77M246.00 386.50L243.34 385.63" stroke="#1a1a1a" stroke-width="1.5" stroke-linecap="butt" fill="none"/>
<circle cx="246.00" cy="386.50" r="1.1" fill="#1a1a1a"/>
<path d="M242.90 392.70L242.90 389.90M242.90 392.70L245.56 391.83M242.90 392.70L244.55 394.97M242.90 392.70L241.25 394.97M242.90 392.70L240.24 391.83" stroke="#1a1a1a" stroke-width="1.5" stroke-linecap="butt" fill="none"/>
<circle cx="242.90" cy="392.70" r="1.1" fill="#1a1a1a"/>
<path d="M253.10 385.00L253.10 382.20M253.10 385.00L255.76 384.13M253.10 385.00L254.75 387.27M253.10 385.00L251.45 387.27M253.10 385.00L250.44 384.13" stroke="#1a1a1a" stroke-width="1.5" stroke-linecap="butt" fill="none"/>
<circle cx="253.10" cy="385.00" r="1.1" fill="#1a1a1a"/>
<path d="M259.50 385.00L259.50 382.20M259.50 385.00L262.16 384.13M259.50 385.00L261.15 387.27M259.50 385.00L257.85 387.27M259.50 385.00L256.84 384.13" stroke="#1a1a1a" stroke-width="1.5" stroke-linecap="butt" fill="none"/>
<circle cx="259.50" cy="385.00" r="1.1" fill="#1a1a1a"/>
<path d="M256.20 390.90L256.20 388.10M256.20 390.90L258.86 390.03M256.20 390.90L257.85 393.17M256.20 390.90L254.55 393.17M256.20 390.90L253.54 390.03" stroke="#1a1a1a" stroke-width="1.5" stroke-linecap="butt" fill="none"/>
<circle cx="256.20" cy="390.90" r="1.1" fill="#1a1a1a"/>
<path d="M275.50 369.50L275.50 366.70M275.50 369.50L278.16 368.63M275.50 369.50L277.15 371.77M275.50 369.50L273.85 371.77M275.50 369.50L272.84 368.63" stroke="#1a1a1a" stroke-width="1.5" stroke-linecap="butt" fill="none"/>
<circle cx="275.50" cy="369.50" r="1.1" fill="#1a1a1a"/>
<path d="M282.00 369.50L282.00 366.70M282.00 369.50L284.66 368.63M282.00 369.50L283.65 371.77M282.00 369.50L280.35 371.77M282.00 369.50L279.34 368.63" stroke="#1a1a1a" stroke-width="1.5" stroke-linecap="butt" fill="none"/>
<circle cx="282.00" cy="369.50" r="1.1" fill="#1a1a1a"/>
<path d="M278.50 375.30L278.50 372.50M278.50 375.30L281.16 374.43M278.50 375.30L280.15 377.57M278.50 375.30L276.85 377.57M278.50 375.30L275.84 374.43" stroke="#1a1a1a" stroke-width="1.5" stroke-linecap="butt" fill="none"/>
<circle cx="278.50" cy="375.30" r="1.1" fill="#1a1a1a"/>
<path d="M289.30 366.10L289.30 363.30M289.30 366.10L291.96 365.23M289.30 366.10L290.95 368.37M289.30 366.10L287.65 368.37M289.30 366.10L286.64 365.23" stroke="#1a1a1a" stroke-width="1.5" stroke-linecap="butt" fill="none"/>
<circle cx="289.30" cy="366.10" r="1.1" fill="#1a1a1a"/>
<path d="M295.50 366.10L295.50 363.30M295.50 366.10L298.16 365.23M295.50 366.10L297.15 368.37M295.50 366.10L293.85 368.37M295.50 366.10L292.84 365.23" stroke="#1a1a1a" stroke-width="1.5" stroke-linecap="butt" fill="none"/>
<circle cx="295.50" cy="366.10" r="1.1" fill="#1a1a1a"/>
<path d="M292.00 372.50L292.00 369.70M292.00 372.50L294.66 371.63M292.00 372.50L293.65 374.77M292.00 372.50L290.35 374.77M292.00 372.50L289.34 371.63" stroke="#1a1a1a" stroke-width="1.5" stroke-linecap="butt" fill="none"/>
<circle cx="292.00" cy="372.50" r="1.1" fill="#1a1a1a"/>
<path d="M314.30 334.00L314.30 331.20M314.30 334.00L316.96 333.13M314.30 334.00L315.95 336.27M314.30 334.00L312.65 336.27M314.30 334.00L311.64 333.13" stroke="#1a1a1a" stroke-width="1.5" stroke-linecap="butt" fill="none"/>
<circle cx="314.30" cy="334.00" r="1.1" fill="#1a1a1a"/>
<line x1="382.4" y1="326.0" x2="382.4" y2="424.0" stroke="#1a1a1a" stroke-width="1.3" />
<line x1="381.9" y1="423.5" x2="516" y2="423.5" stroke="#1a1a1a" stroke-width="1.3" />
<line x1="380.2" y1="326.5" x2="382.4" y2="326.5" stroke="#1a1a1a" stroke-width="1.0" />
<text transform="translate(380.0 330.0) scale(0.8 1)" font-size="9.2" font-weight="bold" text-anchor="end" fill="#0c0c0c" stroke="#0c0c0c" stroke-width="0.3">300</text>
<line x1="380.2" y1="358.8333333333333" x2="382.4" y2="358.8333333333333" stroke="#1a1a1a" stroke-width="1.0" />
<text transform="translate(380.0 362.3333333333333) scale(0.8 1)" font-size="9.2" font-weight="bold" text-anchor="end" fill="#0c0c0c" stroke="#0c0c0c" stroke-width="0.3">200</text>
<line x1="380.2" y1="391.1666666666667" x2="382.4" y2="391.1666666666667" stroke="#1a1a1a" stroke-width="1.0" />
<text transform="translate(380.0 394.6666666666667) scale(0.8 1)" font-size="9.2" font-weight="bold" text-anchor="end" fill="#0c0c0c" stroke="#0c0c0c" stroke-width="0.3">100</text>
<line x1="380.2" y1="423.5" x2="382.4" y2="423.5" stroke="#1a1a1a" stroke-width="1.0" />
<text transform="translate(380.0 427.0) scale(0.8 1)" font-size="9.2" font-weight="bold" text-anchor="end" fill="#0c0c0c" stroke="#0c0c0c" stroke-width="0.3">0</text>
<line x1="388.85" y1="329.6" x2="388.85" y2="357.1" stroke="#1a1a1a" stroke-width="1.25" />
<line x1="385.95000000000005" y1="330.1" x2="391.75" y2="330.1" stroke="#1a1a1a" stroke-width="1.2" />
<rect x="384.20" y="357.60" width="9.30" height="65.90" fill="#d6d6d6" stroke="#1a1a1a" stroke-width="1"/>
<line x1="402.0" y1="331.2" x2="402.0" y2="357.1" stroke="#1a1a1a" stroke-width="1.25" />
<line x1="399.1" y1="331.7" x2="404.9" y2="331.7" stroke="#1a1a1a" stroke-width="1.2" />
<rect x="396.90" y="357.10" width="10.20" height="66.40" fill="#1c1c1c"/>
<line x1="424.9" y1="381.1" x2="424.9" y2="394.1" stroke="#1a1a1a" stroke-width="1.25" />
<line x1="422.0" y1="381.6" x2="427.79999999999995" y2="381.6" stroke="#1a1a1a" stroke-width="1.2" />
<rect x="420.30" y="394.60" width="9.20" height="28.90" fill="#d6d6d6" stroke="#1a1a1a" stroke-width="1"/>
<line x1="437.8" y1="380.1" x2="437.8" y2="388.2" stroke="#1a1a1a" stroke-width="1.25" />
<line x1="434.90000000000003" y1="380.6" x2="440.7" y2="380.6" stroke="#1a1a1a" stroke-width="1.2" />
<rect x="432.70" y="388.20" width="10.20" height="35.30" fill="#1c1c1c"/>
<line x1="460.4" y1="373.5" x2="460.4" y2="389.1" stroke="#1a1a1a" stroke-width="1.25" />
<line x1="457.5" y1="374" x2="463.29999999999995" y2="374" stroke="#1a1a1a" stroke-width="1.2" />
<rect x="455.80" y="389.60" width="9.20" height="33.90" fill="#d6d6d6" stroke="#1a1a1a" stroke-width="1"/>
<line x1="473.6" y1="374.2" x2="473.6" y2="388.2" stroke="#1a1a1a" stroke-width="1.25" />
<line x1="470.70000000000005" y1="374.7" x2="476.5" y2="374.7" stroke="#1a1a1a" stroke-width="1.2" />
<rect x="468.50" y="388.20" width="10.20" height="35.30" fill="#1c1c1c"/>
<line x1="496.5" y1="358.8" x2="496.5" y2="383.5" stroke="#1a1a1a" stroke-width="1.25" />
<line x1="493.6" y1="359.3" x2="499.4" y2="359.3" stroke="#1a1a1a" stroke-width="1.2" />
<rect x="491.90" y="384.00" width="9.20" height="39.50" fill="#d6d6d6" stroke="#1a1a1a" stroke-width="1"/>
<line x1="509.7" y1="355.7" x2="509.7" y2="379.1" stroke="#1a1a1a" stroke-width="1.25" />
<line x1="506.8" y1="356.2" x2="512.6" y2="356.2" stroke="#1a1a1a" stroke-width="1.2" />
<rect x="504.60" y="379.10" width="10.20" height="44.40" fill="#1c1c1c"/>
<text transform="translate(395 433.4) scale(0.86 1)" font-size="8.6" font-weight="bold" text-anchor="middle" fill="#0c0c0c" stroke="#0c0c0c" stroke-width="0.45">Saline</text>
<text transform="translate(432.5 433.4) scale(1.38 1)" font-size="7.8" font-weight="normal" text-anchor="end" fill="#0c0c0c" stroke="#0c0c0c" stroke-width="0.4">αα</text>
<text transform="translate(432.7 433.4) scale(0.86 1)" font-size="8.6" font-weight="bold" text-anchor="start" fill="#0c0c0c" stroke="#0c0c0c" stroke-width="0.45">Hb</text>
<text transform="translate(467 433.4) scale(0.86 1)" font-size="8.6" font-weight="bold" text-anchor="middle" fill="#0c0c0c" stroke="#0c0c0c" stroke-width="0.45">PBH4</text>
<text transform="translate(503 433.4) scale(0.86 1)" font-size="8.6" font-weight="bold" text-anchor="middle" fill="#0c0c0c" stroke="#0c0c0c" stroke-width="0.45">MP4</text>
<path d="M424.90 376.50L424.90 373.70M424.90 376.50L427.56 375.63M424.90 376.50L426.55 378.77M424.90 376.50L423.25 378.77M424.90 376.50L422.24 375.63" stroke="#1a1a1a" stroke-width="1.5" stroke-linecap="butt" fill="none"/>
<circle cx="424.90" cy="376.50" r="1.1" fill="#1a1a1a"/>
<path d="M437.80 374.50L437.80 371.70M437.80 374.50L440.46 373.63M437.80 374.50L439.45 376.77M437.80 374.50L436.15 376.77M437.80 374.50L435.14 373.63" stroke="#1a1a1a" stroke-width="1.5" stroke-linecap="butt" fill="none"/>
<circle cx="437.80" cy="374.50" r="1.1" fill="#1a1a1a"/>
<path d="M460.40 369.00L460.40 366.20M460.40 369.00L463.06 368.13M460.40 369.00L462.05 371.27M460.40 369.00L458.75 371.27M460.40 369.00L457.74 368.13" stroke="#1a1a1a" stroke-width="1.5" stroke-linecap="butt" fill="none"/>
<circle cx="460.40" cy="369.00" r="1.1" fill="#1a1a1a"/>
<path d="M473.60 369.50L473.60 366.70M473.60 369.50L476.26 368.63M473.60 369.50L475.25 371.77M473.60 369.50L471.95 371.77M473.60 369.50L470.94 368.63" stroke="#1a1a1a" stroke-width="1.5" stroke-linecap="butt" fill="none"/>
<circle cx="473.60" cy="369.50" r="1.1" fill="#1a1a1a"/>
<path d="M496.50 354.00L496.50 351.20M496.50 354.00L499.16 353.13M496.50 354.00L498.15 356.27M496.50 354.00L494.85 356.27M496.50 354.00L493.84 353.13" stroke="#1a1a1a" stroke-width="1.5" stroke-linecap="butt" fill="none"/>
<circle cx="496.50" cy="354.00" r="1.1" fill="#1a1a1a"/>
<path d="M509.70 350.50L509.70 347.70M509.70 350.50L512.36 349.63M509.70 350.50L511.35 352.77M509.70 350.50L508.05 352.77M509.70 350.50L507.04 349.63" stroke="#1a1a1a" stroke-width="1.5" stroke-linecap="butt" fill="none"/>
<circle cx="509.70" cy="350.50" r="1.1" fill="#1a1a1a"/>
<rect x="145" y="449" width="21.5" height="10" fill="#c4c4c4" stroke="#1a1a1a" stroke-width="1"/>
<text x="172" y="458.2" font-size="13" font-weight="normal" text-anchor="start" fill="#0c0c0c" stroke="#0c0c0c" stroke-width="0.45" textLength="67" lengthAdjust="spacingAndGlyphs">ARTERIOLAR</text>
<rect x="326" y="448.5" width="22.5" height="11" fill="#111"/>
<text x="352.5" y="458.2" font-size="13" font-weight="normal" text-anchor="start" fill="#0c0c0c" stroke="#0c0c0c" stroke-width="0.45" textLength="49.5" lengthAdjust="spacingAndGlyphs">VENULAR</text>
</svg>
</body></html>
